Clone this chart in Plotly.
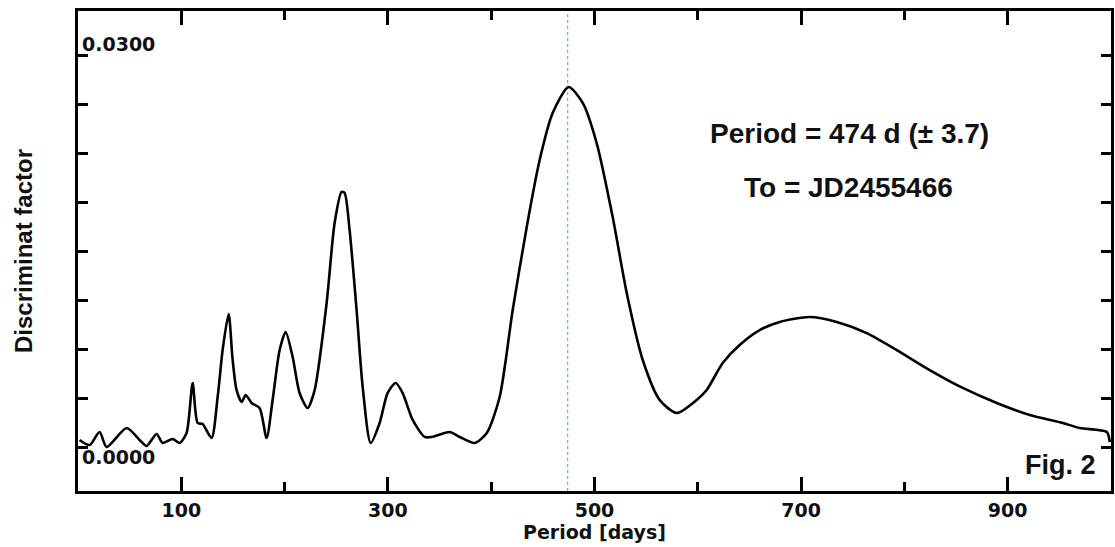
import plotly.graph_objects as go

# Discriminant factor vs trial period
period_days = [1.5, 11.2, 20.9, 27.7, 47.1, 59.6, 66.4, 76.1, 81.9, 91.6, 98.4,
               105.1, 111.0, 115.8, 120.6, 129.3, 135.2, 140.0, 145.8, 149.7, 153.5,
               158.4, 162.3, 168.1, 175.8, 182.6, 188.4, 195.2, 201.0, 207.8, 214.5,
               222.3, 229.1, 240.7, 248.4, 255.2, 258.1, 262.9, 269.7, 275.6, 283.3,
               292.0, 299.7, 307.5, 314.3, 324.0, 335.6, 342.4, 359.8, 369.5, 384.0,
               395.7, 408.2, 420.8, 434.4, 446.9, 459.5, 475.0, 488.6, 502.1, 517.6,
               531.2, 546.7, 563.1, 579.6, 598.9, 608.6, 624.1, 640.5, 659.9, 679.3,
               708.3, 734.5, 763.5, 792.6, 824.5, 856.5, 889.4, 921.3, 953.3, 969.8,
               995.9, 998.8]
discriminant = [0.00054, 0.00015, 0.00115, 0.00000, 0.00145, 0.00054, 0.00008, 0.00100,
                0.00031, 0.00061, 0.00031, 0.00107, 0.00490, 0.00184, 0.00176, 0.00069,
                0.00383, 0.00742, 0.01018, 0.00666, 0.00436, 0.00344, 0.00398, 0.00337,
                0.00298, 0.00069, 0.00360, 0.00742, 0.00880, 0.00689, 0.00413, 0.00298,
                0.00436, 0.01102, 0.01714, 0.01952, 0.01944, 0.01661, 0.01048, 0.00459,
                0.00031, 0.00184, 0.00413, 0.00490, 0.00413, 0.00207, 0.00077, 0.00077,
                0.00115, 0.00077, 0.00031, 0.00107, 0.00383, 0.01048, 0.01684, 0.02196,
                0.02556, 0.02755, 0.02633, 0.02326, 0.01760, 0.01179, 0.00666, 0.00360,
                0.00260, 0.00360, 0.00436, 0.00643, 0.00781, 0.00895, 0.00957, 0.00995,
                0.00957, 0.00872, 0.00742, 0.00589, 0.00452, 0.00337, 0.00245, 0.00184,
                0.00145, 0.00115, 0.00038]

best_period = 474
x_tick_vals = [100, 300, 500, 700, 900]
x_tick_text = ["100", "300", "500", "700", "900"]
y_tick_vals = [0.0, 0.00375, 0.0075, 0.01125, 0.015, 0.01875, 0.0225, 0.02625, 0.03]
y_label_top = "0.0300"
y_label_bottom = "0.0000"
result_lines = ["Period = 474 d (± 3.7)", "To = JD2455466"]
fig_label = "Fig. 2"

fig = go.Figure()
fig.add_trace(go.Scatter(
    x=period_days, y=discriminant, mode="lines",
    line=dict(color="black", width=2.6, shape="spline", smoothing=0.7),
    hoverinfo="skip", showlegend=False,
))

fig.add_shape(type="line", xref="x", yref="paper", x0=best_period, x1=best_period,
              y0=0, y1=1, line=dict(color="#3ee83e", width=1.3, dash="dot"), layer="below")

tick_font = dict(family="DejaVu Sans", size=19, color="#111111")

fig.update_xaxes(
    range=[0, 1000], tickmode="array", tickvals=x_tick_vals,
    ticktext=["<b>%s</b>" % t for t in x_tick_text],
    ticks="inside", ticklen=14, tickwidth=3, tickcolor="black",
    minor=dict(tickmode="array", tickvals=[200, 400, 600, 800],
               ticks="inside", ticklen=9, tickwidth=3, tickcolor="black"),
    showline=True, linecolor="black", linewidth=3, mirror="ticks",
    showgrid=False, zeroline=False, tickfont=tick_font,
    title=dict(text="<b>Period [days]</b>", font=dict(family="DejaVu Sans", size=19, color="#111111"),
               standoff=3),
)
fig.update_yaxes(
    range=[-0.003367, 0.033367], tickmode="array", tickvals=y_tick_vals,
    showticklabels=False,
    ticks="inside", ticklen=10, tickwidth=2.5, tickcolor="black",
    showline=True, linecolor="black", linewidth=3, mirror="ticks",
    showgrid=False, zeroline=False,
    title=dict(text="<b>Discriminat factor</b>",
               font=dict(family="Liberation Sans", size=24, color="#111111"), standoff=36),
)

fig.add_annotation(xref="paper", x=0, y=y_tick_vals[-1], xanchor="left", yanchor="middle",
                   xshift=2, yshift=11, showarrow=False,
                   text="<b>%s</b>" % y_label_top, font=tick_font)
fig.add_annotation(xref="paper", x=0, y=y_tick_vals[0], xanchor="left", yanchor="middle",
                   xshift=2, yshift=-10, showarrow=False,
                   text="<b>%s</b>" % y_label_bottom, font=tick_font)

big_font = dict(family="Liberation Sans", size=28, color="#111111")
fig.add_annotation(xref="paper", yref="paper", x=(849 - 78) / 1033, y=(491 - 133) / 480,
                   xanchor="center", yanchor="middle", showarrow=False,
                   text="<b>%s</b>" % result_lines[0], font=big_font)
fig.add_annotation(xref="paper", yref="paper", x=(848 - 78) / 1033, y=(491 - 187) / 480,
                   xanchor="center", yanchor="middle", showarrow=False,
                   text="<b>%s</b>" % result_lines[1], font=big_font)
fig.add_annotation(xref="paper", yref="paper", x=(1098 - 78) / 1033, y=(491 - 465) / 480,
                   xanchor="right", yanchor="middle", showarrow=False,
                   text="<b>%s</b>" % fig_label, font=dict(family="Liberation Sans", size=27, color="#111111"))

fig.update_layout(
    width=1115, height=547,
    margin=dict(l=78, r=4, t=11, b=56, autoexpand=False),
    paper_bgcolor="white", plot_bgcolor="white",
    showlegend=False,
)

fig.write_html("out.html", config={"displayModeBar": False},
               post_script="document.body.style.margin='0px';document.body.style.overflow='hidden';")
